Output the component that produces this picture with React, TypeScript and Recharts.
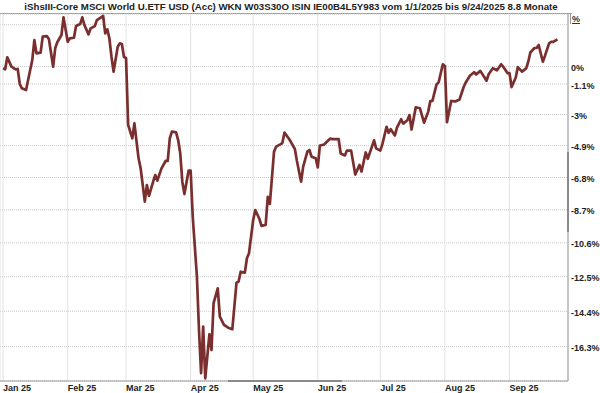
import React from 'react';
import { LineChart, Line, XAxis, YAxis, CartesianGrid, ReferenceLine } from 'recharts';

const TITLE = 'iShsIII-Core MSCI World U.ETF USD (Acc) WKN W03S30O ISIN IE00B4L5Y983 vom 1/1/2025 bis 9/24/2025 8.8 Monate';

// days since 1 Jan 2025
const days = [
  0, 1, 2, 4, 6, 7, 8, 9, 11, 13, 14, 15, 16, 18, 19, 21, 22, 24, 25, 26,
  28, 29, 31, 32, 34, 35, 37, 38, 39, 41, 42, 44, 45, 47, 48, 49, 50, 51, 52, 53,
  55, 56, 57, 58, 59, 60, 62, 63, 65, 66, 68, 69, 70, 72, 73, 74, 76, 78, 79, 80,
  81, 83, 84, 85, 86, 87, 89, 90, 91, 93, 94, 95, 96, 97, 99, 100, 101, 103, 104, 106,
  108, 110, 112, 113, 114, 116, 117, 118, 120, 121, 123, 124, 126, 127, 128, 130, 131, 133, 134, 135,
  137, 138, 140, 141, 143, 144, 146, 147, 148, 150, 151, 152, 154, 155, 157, 158, 161, 162, 164, 165,
  167, 169, 171, 172, 174, 175, 178, 179, 181, 182, 184, 185, 186, 188, 189, 191, 192, 194, 195, 196,
  198, 200, 202, 204, 205, 206, 208, 209, 211, 212, 213, 215, 217, 219, 221, 222, 224, 226, 227, 229,
  232, 233, 235, 237, 239, 240, 242, 243, 244, 246, 247, 249, 251, 252, 253, 255, 256, 257, 259, 260,
  262, 263, 264, 266,
];

// performance in % since 1 Jan 2025
const pct = [
  -0.11, -0.17, 0.59, 0.0, -0.17, -0.15, -1.1, -1.37, -1.48, -0.22, 0.42, 1.7, 0.85, 0.89, 1.92, 1.96, 1.75, -0.01, 1.17, 1.56,
  2.03, 3.18, 1.59, 1.81, 1.85, 2.61, 2.74, 3.18, 2.68, 2.07, 2.46, 2.61, 3.0, 3.18, 3.27, 2.14, 2.4, 1.81, 0.63, -0.32,
  1.27, 1.49, 1.45, 0.61, 0.55, -3.64, -4.45, -3.54, -5.66, -6.26, -8.22, -7.25, -7.89, -7.05, -6.66, -6.99, -6.26, -5.82, -5.82, -4.45,
  -4.05, -4.09, -4.56, -5.36, -7.05, -7.78, -6.4, -6.4, -9.1, -12.5, -15.41, -17.7, -15.23, -17.97, -15.64, -16.48, -13.96, -13.14, -14.69, -15.14,
  -15.29, -15.37, -12.83, -12.77, -12.22, -12.27, -11.47, -11.18, -9.29, -8.71, -9.23, -9.63, -9.57, -7.95, -8.36, -5.26, -4.96, -4.82, -4.74, -4.11,
  -4.45, -4.65, -5.1, -5.82, -7.05, -6.16, -5.26, -5.16, -5.56, -5.66, -6.2, -4.89, -4.84, -4.71, -4.47, -4.5, -4.5, -5.37, -5.49, -5.19,
  -5.2, -6.63, -6.06, -6.45, -5.31, -5.69, -4.58, -5.06, -5.2, -4.81, -3.75, -4.12, -3.9, -4.28, -3.8, -3.29, -3.56, -3.35, -3.03, -3.92,
  -2.56, -2.61, -3.5, -2.82, -2.17, -2.15, -1.12, -0.99, 0.15, 0.04, -3.47, -2.16, -2.19, -2.07, -1.29, -1.0, -0.58, -0.36, -0.5, -0.27,
  -0.89, -0.48, -0.1, -0.23, 0.15, -0.01, -0.41, -0.41, -1.29, -0.69, -0.03, -0.32, -0.11, 0.31, 0.9, 1.19, 1.19, 1.38, 0.31, 0.68,
  1.49, 1.59, 1.59, 1.75,
];

const monthStarts = [0, 31, 59, 90, 120, 151, 181, 212, 243];
const monthLabels = ['Jan 25', 'Feb 25', 'Mar 25', 'Apr 25', 'May 25', 'Jun 25', 'Jul 25', 'Aug 25', 'Sep 25'];

const yTicksPct = [2.7, 0, -1.1, -3, -4.9, -6.8, -8.7, -10.6, -12.5, -14.4, -16.3];
const yLabelsPct = ['', '0%', '-1.1%', '-3%', '-4.9%', '-6.8%', '-8.7%', '-10.6%', '-12.5%', '-14.4%', '-16.3%'];

const data = days.map((d, i) => ({ day: d, idx: 100 + pct[i] }));
const yTicks = yTicksPct.map((p) => 100 + p);

const X_DOMAIN: [number, number] = [-1.49, 271.07];
const Y_DOMAIN: [number, number] = [81.89, 103.4];

const FONT = 'Arial, "Liberation Sans", Helvetica, sans-serif';

const XTick = (props: any) => {
  const { x, y, payload } = props;
  const i = monthStarts.indexOf(payload.value);
  const label = i >= 0 ? monthLabels[i] : '';
  return (
    <text x={Math.max(0, x)} y={y + 10} textAnchor="start" fontSize={9} fontWeight="bold" fill="#222" fontFamily={FONT}>
      {label}
    </text>
  );
};

const YTick = (props: any) => {
  const { x, y, payload } = props;
  const i = yTicks.findIndex((t) => Math.abs(t - payload.value) < 1e-6);
  const label = i >= 0 ? yLabelsPct[i] : '';
  return (
    <text x={x} y={y + 4.5} textAnchor="start" fontSize={9} fontWeight="bold" fill="#222" fontFamily={FONT}>
      {label}
    </text>
  );
};

export default function App() {
  return (
    <div style={{ position: 'absolute', left: 0, top: 0, width: 600, height: 393, background: '#fff', overflow: 'hidden' }}>
      <div
        style={{
          position: 'absolute',
          left: 0,
          top: 1,
          width: 582,
          textAlign: 'center',
          fontFamily: FONT,
          fontWeight: 'bold',
          fontSize: 9.7,
          lineHeight: '11px',
          color: '#222',
          whiteSpace: 'nowrap',
        }}
      >
        {TITLE}
      </div>
      <div style={{ position: 'absolute', left: 0, top: 13, width: 572, height: 1, background: '#9a9a9a' }} />
      <div
        style={{
          position: 'absolute',
          left: 570,
          top: 14,
          fontFamily: FONT,
          fontWeight: 'bold',
          fontSize: 9,
          lineHeight: '10px',
          color: '#333',
          textDecoration: 'underline',
          borderLeft: '1px solid #999',
          paddingLeft: 1,
        }}
      >
        %
      </div>
      <div style={{ position: 'absolute', left: 0, top: 0 }}>
        <LineChart width={600} height={393} data={data} margin={{ top: 14, right: 0, bottom: 0, left: 0 }}>
          <CartesianGrid horizontal={true} vertical={false} stroke="#c8c8c8" strokeDasharray="1 1" />
          <CartesianGrid horizontal={false} vertical={true} stroke="#e2e2e2" />
          <XAxis
            dataKey="day"
            type="number"
            domain={X_DOMAIN}
            allowDataOverflow
            ticks={monthStarts}
            interval={0}
            height={12}
            tickLine={false}
            tickSize={0}
            tickMargin={0}
            axisLine={{ stroke: '#9a9a9a' }}
            tick={<XTick />}
          />
          <YAxis
            orientation="right"
            type="number"
            scale="log"
            domain={Y_DOMAIN}
            allowDataOverflow
            ticks={yTicks}
            interval={0}
            width={32}
            tickLine={false}
            tickSize={0}
            tickMargin={3}
            axisLine={{ stroke: '#9a9a9a' }}
            tick={<YTick />}
          />
          <ReferenceLine
            segment={[{ x: 107.9, y: Y_DOMAIN[0] }, { x: 162.6, y: Y_DOMAIN[0] }]}
            stroke="#555"
            strokeWidth={1.5}
            ifOverflow="visible"
          />
          <ReferenceLine
            segment={[{ x: X_DOMAIN[1], y: 94.72 }, { x: X_DOMAIN[1], y: 90.03 }]}
            stroke="#555"
            strokeWidth={1.5}
            ifOverflow="visible"
          />
          <Line
            type="linear"
            dataKey="idx"
            stroke="#7a2e2e"
            strokeWidth={2.7}
            dot={false}
            isAnimationActive={false}
            strokeLinejoin="round"
          />
        </LineChart>
      </div>
    </div>
  );
}
